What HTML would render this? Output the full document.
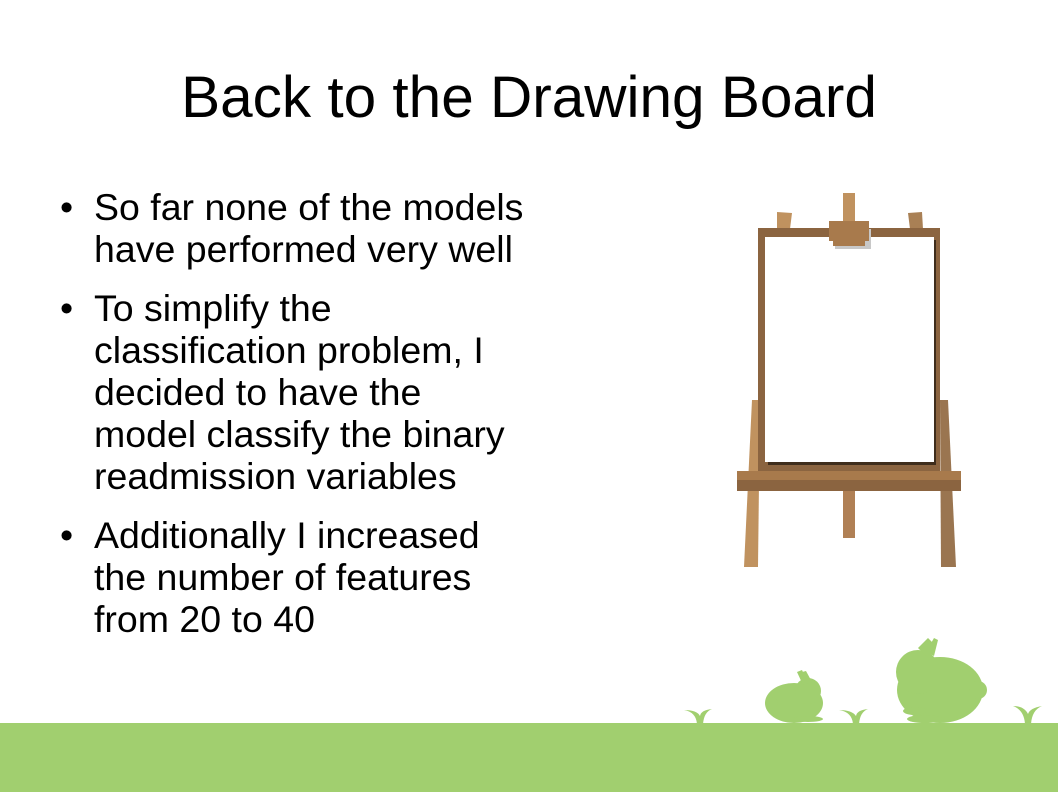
<!DOCTYPE html>
<html><head><meta charset="utf-8"><style>
body{margin:0;width:1058px;height:794px;overflow:hidden;background:#fff;font-family:"Liberation Sans",sans-serif;position:relative}
h1{position:absolute;left:0;width:1058px;top:64px;margin:0;text-align:center;font-weight:normal;font-size:58.5px;color:#000;line-height:68px}
ul{position:absolute;left:60px;top:186px;margin:0;padding:0;list-style:none;font-size:37.5px;line-height:42px;color:#000}
li{position:relative;padding-left:34px;margin-bottom:17px}
li:before{content:"•";position:absolute;left:0;top:0}
svg{position:absolute;left:0;top:0}
</style></head><body>
<h1>Back to the Drawing Board</h1>
<ul>
<li>So far none of the models<br>have performed very well</li>
<li>To simplify the<br>classification problem, I<br>decided to have the<br>model classify the binary<br>readmission variables</li>
<li>Additionally I increased<br>the number of features<br>from 20 to 40</li>
</ul>
<svg width="1058" height="794">
<g>
<polygon points="752,400 760,400 758,567 744,567" fill="#c0925f"/>
<polygon points="940,400 948,400 956,567 941,567" fill="#9a7550"/>
<rect x="843" y="480" width="12" height="58" fill="#b08055"/>
<rect x="843" y="193" width="12" height="35" fill="#c0925f"/>
<polygon points="777,212 792,213 790,229 777,229" fill="#c0925f"/>
<polygon points="908,213 922,212 923,229 910,229" fill="#a98055"/>
<rect x="758" y="228" width="182" height="243" fill="#8b6440"/>
<rect x="768" y="240" width="168" height="225" fill="#3f2d1c"/>
<rect x="765" y="237" width="169" height="225" fill="#fff"/>
<rect x="835" y="229" width="36" height="20" fill="#c8c8c8"/>
<rect x="829" y="221" width="40" height="20" fill="#a87a4c"/>
<rect x="833" y="239" width="32" height="7" fill="#a87a4c"/>
<rect x="737" y="471" width="224" height="20" fill="#8b6440"/>
<rect x="737" y="471" width="224" height="9" fill="#a87a4c"/>
</g>
<g fill="#a1cf6f">
<rect x="0" y="723" width="1058" height="69"/>
<path d="M684,710 Q696,712 697,724 L703,724 Q704,712 712,709 Q701,710 700,716 Q697,710 684,710Z"/>
<path d="M839,710 Q852,712 853,724 L859,724 Q860,712 868,709 Q857,710 856,716 Q852,710 839,710Z"/>
<path d="M1013,706 Q1024,710 1025,724 L1031,724 Q1032,710 1042,706 Q1030,708 1028,714 Q1024,706 1013,706Z"/>
<ellipse cx="794" cy="703" rx="29" ry="20"/>
<circle cx="772" cy="703" r="6"/>
<circle cx="808" cy="691" r="13"/>
<path d="M797,672 L802,670 L808,683 L803,685Z M802,672 L806,671 L812,682 L807,684Z"/>
<ellipse cx="808" cy="719" rx="15" ry="3"/>
<ellipse cx="940" cy="690" rx="43" ry="33"/>
<circle cx="978" cy="690" r="9"/>
<circle cx="918" cy="672" r="22"/>
<path d="M918,648 L928,638 L932,642 L926,656Z M926,652 L934,638 L938,640 L934,656Z"/>
<ellipse cx="915" cy="711" rx="12" ry="4"/>
<ellipse cx="925" cy="719" rx="18" ry="4"/>
</g>
</svg>
</body></html>
